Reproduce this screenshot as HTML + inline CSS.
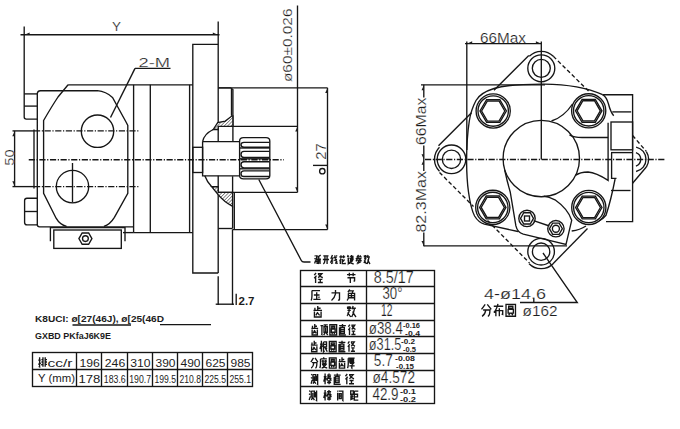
<!DOCTYPE html>
<html><head><meta charset="utf-8"><style>
html,body{margin:0;padding:0;background:#fff;}
svg{display:block;}
svg *{fill:none;stroke:#161616;stroke-width:1.35;}
svg text{fill:#1c1c1c;stroke:none;font-family:"Liberation Sans",sans-serif;}
svg text.nt{font-weight:normal;stroke:#fff;stroke-width:0.2;}
svg .f{fill:#1c1c1c;stroke:none;}
svg .h{fill:url(#hp);}
svg .dd{stroke-dasharray:6.2 1.6 1.2 1.6;}
svg .dash{stroke-dasharray:4 2.5;}
</style></head><body>
<svg width="680" height="429" viewBox="0 0 680 429">
<defs><pattern id="hp" width="2.4" height="2.4" patternUnits="userSpaceOnUse" patternTransform="rotate(45)"><rect x="0" y="0" width="2.4" height="2.4" style="fill:#fff;stroke:none"/><line x1="0" y1="0" x2="0" y2="2.4" style="stroke:#333;stroke-width:1.1"/></pattern></defs>
<line x1="20.5" y1="34.7" x2="219.5" y2="34.7" />
<line x1="24.2" y1="26.5" x2="24.2" y2="117" />
<path d="M24.2,117 Q24.2,119.1 26.3,119.1 L37.3,119.1" />
<line x1="218.2" y1="21.5" x2="218.2" y2="141.6" />
<line x1="218.2" y1="175.8" x2="218.2" y2="273" />
<text x="116.5" y="31.3" font-size="13.5" text-anchor="middle" class="nt">Y</text>
<path d="M218.2,44.4 L192.8,44.4 L192.8,273 L218.2,273" />
<line x1="24.2" y1="93.9" x2="37.3" y2="93.9" />
<line x1="24.2" y1="106.1" x2="37.3" y2="106.1" />
<path d="M37.3,225 L37.3,94 Q37.3,90.7 40.5,90.7 L97.5,90.7 Q106,91.5 112.5,97.5 L126.3,122.5 L127.8,125.5 L127.8,193.4 L114.4,217.3 Q110,224.5 103.9,226.3" />
<path d="M37.3,224.5 Q37.3,226.8 39.6,226.8 L133.6,226.8" />
<path d="M68.1,84.8 L58,97 Q52,106 43.6,120.5 L43.6,193.4 L56.1,218.2 Q60,225 66.6,226.3" />
<line x1="68.1" y1="84.8" x2="192.8" y2="84.8" />
<line x1="133.6" y1="84.8" x2="133.6" y2="232.6" />
<line x1="150.3" y1="84.8" x2="150.3" y2="232.6" />
<line x1="189.6" y1="84.8" x2="189.6" y2="232.6" />
<line x1="133.6" y1="232.6" x2="192.8" y2="232.6" />
<line x1="34" y1="129.5" x2="34" y2="188.6" />
<line x1="12.5" y1="130.9" x2="34" y2="130.9" />
<line x1="34" y1="130.9" x2="140" y2="130.9" class="dd" />
<line x1="12.5" y1="186.6" x2="34" y2="186.6" />
<line x1="34" y1="186.6" x2="140" y2="186.6" class="dd" />
<line x1="28.75" y1="159.7" x2="283.8" y2="159.7" class="dd" />
<circle cx="97.5" cy="131.2" r="16.2" stroke-width="1.9"/>
<circle cx="72.5" cy="186.6" r="16.2" stroke-width="1.9"/>
<line x1="72.5" y1="163" x2="72.5" y2="202.5" />
<line x1="14.6" y1="130.9" x2="14.6" y2="186.6" />
<text x="13.9" y="157.6" font-size="12.5" text-anchor="middle" class="nt" transform="rotate(-90 13.9 157.6)" textLength="16.3" lengthAdjust="spacingAndGlyphs">50</text>
<path d="M37,198.2 L27,198.2 Q24.6,198.2 24.6,200.6 L24.6,222.5 Q24.6,224.9 27,224.9 L37,224.9" />
<line x1="24.6" y1="211.5" x2="37" y2="211.5" />
<path d="M50.4,241.2 L50.4,227.6 L125,227.6 L125,241.2" />
<rect x="53.8" y="230" width="67.5" height="18.4" />
<line x1="123" y1="232.6" x2="133.6" y2="232.6" />
<polygon points="91.90,238.60 88.65,244.23 82.15,244.23 78.90,238.60 82.15,232.97 88.65,232.97" />
<circle cx="85.4" cy="238.6" r="2.9" />
<text x="138.5" y="67" font-size="12.5" text-anchor="start" class="nt" textLength="31.5" lengthAdjust="spacingAndGlyphs">2-M</text>
<line x1="135" y1="68.4" x2="170.5" y2="68.4" />
<line x1="135" y1="68.4" x2="110.5" y2="117.5" />
<line x1="218.2" y1="87.8" x2="327.5" y2="87.8" />
<path d="M218.2,87.8 L230.5,87.8 L232.9,89.5 L232.9,141.6" />
<line x1="231.5" y1="88.5" x2="231.5" y2="115.8" />
<line x1="218.2" y1="126.4" x2="297.5" y2="126.4" />
<line x1="218.2" y1="192.4" x2="297.5" y2="192.4" />
<line x1="232.6" y1="176.2" x2="232.6" y2="192.4" />
<line x1="232.6" y1="206.4" x2="232.6" y2="228.3" />
<line x1="218.2" y1="228.5" x2="232.6" y2="228.5" />
<line x1="234.3" y1="192.4" x2="234.3" y2="229.6" />
<line x1="232.5" y1="229.6" x2="327.5" y2="229.6" />
<line x1="297.5" y1="5.5" x2="297.5" y2="192.4" />
<line x1="327.5" y1="87.8" x2="327.5" y2="229.6" />
<path d="M213.2,129.5 L217.7,122.6 L225.3,121.1 L232.1,115.8 L232.9,115.8 L232.9,126.4 L218.2,126.4 L218.2,129.5 Z" class="h"/>
<path d="M211.7,186.7 L218.2,186.7 L218.2,192.4 L232.6,192.4 L232.6,206.4 Q224,202 217.7,194.2 Z" class="h"/>
<path d="M202.6,141.6 Q204,134 213.2,129.5" />
<path d="M204.8,175.8 Q207,182 211.7,186.7" />
<path d="M202.6,141.6 L239.6,141.6 M202.6,141.6 L202.6,175.8 L239.6,175.8" />
<rect x="192.8" y="147.3" width="9.8" height="25.2" />
<path d="M239.6,141 Q239.6,137.6 243.5,137.6 L266,137.6 Q269.8,137.6 269.8,141 L269.8,175.5 Q269.8,178.8 266,178.8 L243.5,178.8 Q239.6,178.8 239.6,175.5 Z" stroke-width="1.5"/>
<path d="M244,142.3 L269.5,142.3 M244,147.2 L269.5,147.2 M244,142.3 Q241,142.3 241,144.75 Q241,147.2 244,147.2" stroke-width="1.3"/>
<path d="M244,151.4 L269.5,151.4 M244,157.5 L269.5,157.5 M244,151.4 Q241,151.4 241,154.45 Q241,157.5 244,157.5" stroke-width="1.3"/>
<path d="M244,161.7 L269.5,161.7 M244,167.8 L269.5,167.8 M244,161.7 Q241,161.7 241,164.75 Q241,167.8 244,167.8" stroke-width="1.3"/>
<path d="M244,170.8 L269.5,170.8 M244,176.5 L269.5,176.5 M244,170.8 Q241,170.8 241,173.65 Q241,176.5 244,176.5" stroke-width="1.3"/>
<line x1="240" y1="148" x2="269.8" y2="148" stroke-width="1.5"/>
<line x1="240" y1="158.8" x2="269.8" y2="158.8" stroke-width="1.8"/>
<line x1="240" y1="168.8" x2="269.8" y2="168.8" stroke-width="1.5"/>
<path d="M258.8,179.5 L301.3,260.5 Q302,262 304,262 L310.5,262" />
<text x="291" y="44.5" font-size="12" text-anchor="middle" class="nt" transform="rotate(-90 292 44.3)" textLength="73.5" lengthAdjust="spacingAndGlyphs">ø60±0.026</text>
<text x="326.5" y="151.6" font-size="13.8" text-anchor="middle" class="nt" transform="rotate(-90 326.5 151.6)" textLength="16.3" lengthAdjust="spacingAndGlyphs">27</text>
<line x1="313" y1="165.4" x2="327.5" y2="165.4" />
<circle cx="322.3" cy="171.2" r="2.7" stroke-width="1.5"/>
<line x1="218.2" y1="276.2" x2="218.2" y2="305" />
<line x1="232.5" y1="229.5" x2="232.5" y2="305" />
<line x1="236.2" y1="293.8" x2="236.2" y2="305" />
<path d="M215.7,304.2 L234,304.2" />
<text x="238.5" y="304.6" font-size="10.5" text-anchor="start" font-weight="bold" textLength="16" lengthAdjust="spacingAndGlyphs">2.7</text>
<text x="480" y="43" font-size="14.5" text-anchor="start" class="nt" textLength="46" lengthAdjust="spacingAndGlyphs">66Max</text>
<line x1="465" y1="43.6" x2="541.3" y2="43.6" />
<line x1="466.8" y1="41.5" x2="466.8" y2="150" />
<line x1="541.3" y1="41.5" x2="541.3" y2="159.5" />
<line x1="421" y1="84.8" x2="545" y2="84.8" />
<line x1="423.8" y1="84.8" x2="423.8" y2="97.5" />
<line x1="423.8" y1="145.5" x2="423.8" y2="171" />
<line x1="423.8" y1="232.5" x2="423.8" y2="246.3" />
<text x="426" y="121.3" font-size="14.5" text-anchor="middle" class="nt" transform="rotate(-90 426 121.3)" textLength="47.5" lengthAdjust="spacingAndGlyphs">66Max</text>
<text x="426" y="201.8" font-size="14.5" text-anchor="middle" class="nt" transform="rotate(-90 426 201.8)" textLength="61.5" lengthAdjust="spacingAndGlyphs">82.3Max</text>
<line x1="423.8" y1="245.8" x2="567" y2="245.8" />
<line x1="425" y1="159.5" x2="664.5" y2="159.5" class="dd" />
<line x1="528.8" y1="55.5" x2="494" y2="90.3" />
<line x1="471.5" y1="112.8" x2="438.5" y2="145.8" />
<line x1="553.3" y1="56.3" x2="589.5" y2="92" class="dash"/>
<line x1="632.6" y1="135.5" x2="646.3" y2="151.4" class="dash"/>
<line x1="439.5" y1="172.5" x2="473.5" y2="206.5" class="dash"/>
<line x1="487.5" y1="220.5" x2="529.5" y2="263" class="dash"/>
<line x1="553" y1="263.7" x2="587.5" y2="228.5" />
<line x1="632.6" y1="183.3" x2="646.3" y2="167" />
<path d="M529.28,56.28 A17,17 0 0 1 553.32,56.28" />
<path d="M439.48,171.32 A17,17 0 0 1 439.48,147.28" />
<path d="M553.12,263.72 A17,17 0 0 1 529.08,263.72" />
<circle cx="541.3" cy="68.3" r="13.5" />
<circle cx="541.3" cy="68.3" r="9" />
<circle cx="451.5" cy="159.3" r="14.3" />
<circle cx="451.5" cy="159.3" r="9.2" />
<circle cx="541.1" cy="251.7" r="13.3" />
<circle cx="541.1" cy="251.7" r="8.7" />
<path d="M636.10,147.07 A12.5,12.5 0 0 1 636.10,171.53" stroke-width="1.4"/>
<path d="M635.96,152.53 A7.2,7.2 0 0 1 635.96,166.07" stroke-width="1.3"/>
<path d="M646.36,151.57 A15,15 0 0 1 646.36,167.03" />
<path d="M602.6,94.7 C590,89 570,84.3 544,84.1 C525,84 506,85 494,88.5 C486,91 479,95 476,100.5 C472.5,107 470.5,113 469.3,121 C467.3,134 466.6,148 466.6,162 C466.7,175 467.5,185 468.5,192 C470,203 472,211 474.6,216 C477,220 480,222.8 484.4,224.2 L518,231.5" />
<path d="M602.6,94.7 Q606.5,97 608.5,104 Q610.5,112 613.7,115.7" />
<path d="M615.1,179 Q611,200 606,215.3 Q603,219 599,221" />
<path d="M571.7,231 Q580,230 586,226" />
<circle cx="493.2" cy="111" r="17.1" stroke-width="1.4"/>
<circle cx="493.2" cy="111" r="15.2" stroke-width="1.2"/>
<polygon points="506.40,111.00 499.80,122.43 486.60,122.43 480.00,111.00 486.60,99.57 499.80,99.57" stroke-width="1.6"/>
<polygon points="504.80,111.00 499.00,121.05 487.40,121.05 481.60,111.00 487.40,100.95 499.00,100.95" stroke-width="1.4"/>
<circle cx="588.7" cy="110.8" r="17.1" stroke-width="1.4"/>
<circle cx="588.7" cy="110.8" r="15.2" stroke-width="1.2"/>
<polygon points="601.90,110.80 595.30,122.23 582.10,122.23 575.50,110.80 582.10,99.37 595.30,99.37" stroke-width="1.6"/>
<polygon points="600.30,110.80 594.50,120.85 582.90,120.85 577.10,110.80 582.90,100.75 594.50,100.75" stroke-width="1.4"/>
<circle cx="492.8" cy="207.4" r="17.1" stroke-width="1.4"/>
<circle cx="492.8" cy="207.4" r="15.2" stroke-width="1.2"/>
<polygon points="506.00,207.40 499.40,218.83 486.20,218.83 479.60,207.40 486.20,195.97 499.40,195.97" stroke-width="1.6"/>
<polygon points="504.40,207.40 498.60,217.45 487.00,217.45 481.20,207.40 487.00,197.35 498.60,197.35" stroke-width="1.4"/>
<circle cx="588.8" cy="207.5" r="17.1" stroke-width="1.4"/>
<circle cx="588.8" cy="207.5" r="15.2" stroke-width="1.2"/>
<polygon points="602.00,207.50 595.40,218.93 582.20,218.93 575.60,207.50 582.20,196.07 595.40,196.07" stroke-width="1.6"/>
<polygon points="600.40,207.50 594.60,217.55 583.00,217.55 577.20,207.50 583.00,197.45 594.60,197.45" stroke-width="1.4"/>
<circle cx="541.3" cy="158.5" r="38.2" />
<path d="M551.5,121 Q564,117 572.5,104" />
<path d="M569.5,134.8 Q574,137.5 582,137.5 L608.1,137.5" />
<path d="M575.3,175.5 Q580,172 588,172 Q596,172.5 608.1,180.4 L608.1,122.7" />
<path d="M611.6,165 L611.6,178.3 L616.5,178.3" />
<path d="M602.6,94.7 L632.6,94.7 L632.6,221.6 L606,221.6" />
<line x1="612.3" y1="111.9" x2="631.2" y2="111.9" />
<rect x="611" y="122" width="21.6" height="27.8" />
<line x1="611" y1="152.6" x2="632.6" y2="152.6" />
<line x1="611.6" y1="152.6" x2="611.6" y2="165" />
<line x1="611" y1="190.5" x2="630.5" y2="190.5" />
<path d="M504.7,170 Q507,181 510.3,192.3 L515.9,225.9 Q517.5,232.5 523.3,234.2 L566,244.5 L571.7,220.3 Q568,209 555,199.8 Q549,197 543.8,196.2" />
<circle cx="527" cy="218.4" r="8.2" />
<polygon points="533.50,218.40 530.25,224.03 523.75,224.03 520.50,218.40 523.75,212.77 530.25,212.77" />
<rect x="524.5" y="216" width="5.0" height="5" />
<circle cx="555.9" cy="228.7" r="8.2" />
<polygon points="562.40,228.70 559.15,234.33 552.65,234.33 549.40,228.70 552.65,223.07 559.15,223.07" />
<circle cx="555.9" cy="228.7" r="3.5" />
<line x1="533.6" y1="220.6" x2="549.4" y2="226" />
<path d="M543,253 L577.3,302.5 L520,302.5" />
<text x="484" y="298.8" font-size="15" text-anchor="start" class="nt" textLength="62" lengthAdjust="spacingAndGlyphs">4-ø14.6</text>
<line x1="533.8" y1="298.5" x2="533.8" y2="302.5" />
<text x="522.5" y="316.3" font-size="15.5" text-anchor="start" class="nt" textLength="35" lengthAdjust="spacingAndGlyphs">ø162</text>
<rect x="300.5" y="270.5" width="134.0" height="133.0" stroke-width="1.5"/>
<line x1="300.5" y1="286.5" x2="434.5" y2="286.5" stroke-width="1.5"/>
<line x1="300.5" y1="303.5" x2="434.5" y2="303.5" stroke-width="1.5"/>
<line x1="300.5" y1="320.5" x2="434.5" y2="320.5" stroke-width="1.5"/>
<line x1="300.5" y1="336.5" x2="434.5" y2="336.5" stroke-width="1.5"/>
<line x1="300.5" y1="353.5" x2="434.5" y2="353.5" stroke-width="1.5"/>
<line x1="300.5" y1="370.5" x2="434.5" y2="370.5" stroke-width="1.5"/>
<line x1="300.5" y1="386.5" x2="434.5" y2="386.5" stroke-width="1.5"/>
<line x1="366.5" y1="270.5" x2="366.5" y2="403.5" stroke-width="1.5"/>
<path d="M0.5,0.5 L1.5,1.5 M0.2,3.5 L1.2,4.5 M0.2,9.5 L1.7,6 M2.3,2 L5.5,2 M3.8,0 Q3.2,4 2.5,5 L5.5,5 M2.3,7 L5.8,7 M4,3.5 L4,10 M9.5,0.2 L6.5,1.5 L6.5,5 Q6.5,8.5 5.8,10 M6.5,4.5 L10,4.5 M8.5,4.5 L8.5,10" transform="translate(314.5,255) scale(0.650,0.900)" vector-effect="non-scaling-stroke" stroke-width="1.5"/>
<path d="M1,1 L9,1 M0.3,5 L9.7,5 M3.5,1 L3.5,6 Q3.2,9 1,10 M6.8,1 L6.8,10" transform="translate(322.67,255) scale(0.650,0.900)" vector-effect="non-scaling-stroke" stroke-width="1.5"/>
<path d="M2.5,0 L0.5,3.5 L3,3.5 L0.3,7.5 L3.5,6.5 M0.3,9.5 L3.5,8.5 M4.5,3 L9,2.5 M4.3,6 L9.5,5 M6,0.5 Q7,6 10,10 M9.5,6.5 L7,9.5 M8.5,0.5 L9.5,1.5" transform="translate(330.83,255) scale(0.650,0.900)" vector-effect="non-scaling-stroke" stroke-width="1.5"/>
<path d="M0.5,2 L9.5,2 M3,0.3 L3,3.5 M7,0.3 L7,3.5 M3,4 L1,7 M2,6 L2,10 M5,4.5 L5,9.5 L9.5,9.5 L9.5,8.5 M8.5,5 L5,8" transform="translate(339.0,255) scale(0.650,0.900)" vector-effect="non-scaling-stroke" stroke-width="1.5"/>
<path d="M1.5,0 L0.5,2.5 M1,2 L3.2,2 M0.5,4 L3,4 M0.5,6 L3,6 M1.8,4 L1.8,9.5 L3.5,8 M4.5,1.5 L8.8,1.5 L8.8,3.5 L4.5,3.5 M4.3,5 L10,5 M4.5,6.5 L9,6.5 M6.8,0 L6.8,8 M4.2,3 L5.5,5 Q4.8,8 3.5,9.5 M4.5,8.5 Q7,9.5 10,10" transform="translate(347.17,255) scale(0.650,0.900)" vector-effect="non-scaling-stroke" stroke-width="1.5"/>
<path d="M5,0 L3,2 L8.5,2 L7,0.5 M0.5,4 L9.5,4 M4.5,2.5 L1,7 M5.5,4 L9.5,7 M5.5,5.5 L3.5,7 M7,6 L3,9 M8.5,7.5 L2,10" transform="translate(355.33,255) scale(0.650,0.900)" vector-effect="non-scaling-stroke" stroke-width="1.5"/>
<path d="M0.5,2 L5,2 M2.7,0 L2.7,4 M0.8,0.5 L1.5,1.5 M4.5,0.5 L3.8,1.5 M1,4 L4.5,4 M3,4 Q2,8 0.5,9 M1,6 Q3,8 4.5,10 M7,0 L5.8,3 M6,2 L9.8,2 M8.5,2 Q7.5,7 5.5,10 M6.5,5 Q8,8 10,10" transform="translate(363.5,255) scale(0.650,0.900)" vector-effect="non-scaling-stroke" stroke-width="1.5"/>
<path d="M2.5,0.5 L0.5,2.5 M3,3 L0.5,5.5 M2,4.5 L2,10 M4.5,1 L9,1 L5,5 M5,1.5 Q7,4 10,5 M5,6.5 L9.5,6.5 M7.2,6.5 L7.2,9.5 M4.5,9.5 L10,9.5" transform="translate(313.8,272.5) scale(0.900,1.050)" vector-effect="non-scaling-stroke" stroke-width="1.95"/>
<path d="M0.5,2 L9.5,2 M3,0.3 L3,3.5 M7,0.3 L7,3.5 M1,5 L8.5,5 L8.5,8 L7.5,8.5 M4,5 L4,10" transform="translate(346.5,272.5) scale(0.950,1.050)" vector-effect="non-scaling-stroke" stroke-width="1.95"/>
<path d="M1,1 L9.5,1 M1,1 L1,6 Q1,9 0,10 M3,5 L9,5 M6,2.5 L6,9 M2.5,9 L10,9 M8,6.5 L8.8,7.5" transform="translate(311,289.5) scale(0.950,1.100)" vector-effect="non-scaling-stroke" stroke-width="1.95"/>
<path d="M1,3 L9,3 L9,9 Q9,10 7.5,9.5 M5,0.5 L5,4 Q4,8 1,10" transform="translate(330.5,289.5) scale(1.000,1.100)" vector-effect="non-scaling-stroke" stroke-width="1.95"/>
<path d="M3.5,0 L1.5,2.5 M3,1.2 L7,1.2 L6,3 M2,3.5 L2,7 Q2,9 0.5,10 M2,3.5 L8.5,3.5 L8.5,10 M2,5.5 L8.5,5.5 M2,7.5 L8.5,7.5 M5.2,3.5 L5.2,7.5" transform="translate(346.5,289.5) scale(0.950,1.100)" vector-effect="non-scaling-stroke" stroke-width="1.95"/>
<path d="M5,0 L5,4 M5,2 L8,2 M2,1.5 L2,4 M0.5,4 L9.5,4 M1.5,5 L1.5,10 L8.5,10 L8.5,5 M5,5.5 L3,8.5 M5,6.5 L7,8.5" transform="translate(313,306) scale(0.950,1.100)" vector-effect="non-scaling-stroke" stroke-width="1.95"/>
<path d="M0.5,2 L5,2 M2.7,0 L2.7,4 M0.8,0.5 L1.5,1.5 M4.5,0.5 L3.8,1.5 M1,4 L4.5,4 M3,4 Q2,8 0.5,9 M1,6 Q3,8 4.5,10 M7,0 L5.8,3 M6,2 L9.8,2 M8.5,2 Q7.5,7 5.5,10 M6.5,5 Q8,8 10,10" transform="translate(346.5,306) scale(0.950,1.100)" vector-effect="non-scaling-stroke" stroke-width="1.95"/>
<path d="M5,0 L5,4 M5,2 L8,2 M2,1.5 L2,4 M0.5,4 L9.5,4 M1.5,5 L1.5,10 L8.5,10 L8.5,5 M5,5.5 L3,8.5 M5,6.5 L7,8.5" transform="translate(311.0,324) scale(0.750,1.100)" vector-effect="non-scaling-stroke" stroke-width="1.9"/>
<path d="M0.3,1.5 L4,1.5 M2.2,1.5 L2.2,9.5 L1.3,9 M4.5,0.8 L10,0.8 M7,0.8 L6.5,2.3 M5,2.5 L9.5,2.5 L9.5,7.5 L5,7.5 Z M7.2,3.5 L7.2,7 M6.5,8 L4.5,10 M8,8 L10,10" transform="translate(320.25,324) scale(0.750,1.100)" vector-effect="non-scaling-stroke" stroke-width="1.9"/>
<path d="M0.5,0.5 L9.5,0.5 L9.5,10 L0.5,10 Z M3,2 L7,2 L7,3.5 L3,3.5 Z M2.5,4.5 L7.5,4.5 L7.5,7.5 L2.5,7.5 Z M4.5,7.5 L3,9 M5.5,7.5 L7,9" transform="translate(329.5,324) scale(0.750,1.100)" vector-effect="non-scaling-stroke" stroke-width="1.9"/>
<path d="M0.5,1.5 L9.5,1.5 M5,0 L5,3 M2.5,3 L7.5,3 L7.5,8.5 L2.5,8.5 Z M2.5,5 L7.5,5 M2.5,6.8 L7.5,6.8 M1,3 L1,10 L9.5,10" transform="translate(338.75,324) scale(0.750,1.100)" vector-effect="non-scaling-stroke" stroke-width="1.9"/>
<path d="M2.5,0.5 L0.5,2.5 M3,3 L0.5,5.5 M2,4.5 L2,10 M4.5,1 L9,1 L5,5 M5,1.5 Q7,4 10,5 M5,6.5 L9.5,6.5 M7.2,6.5 L7.2,9.5 M4.5,9.5 L10,9.5" transform="translate(348.0,324) scale(0.750,1.100)" vector-effect="non-scaling-stroke" stroke-width="1.9"/>
<path d="M5,0 L5,4 M5,2 L8,2 M2,1.5 L2,4 M0.5,4 L9.5,4 M1.5,5 L1.5,10 L8.5,10 L8.5,5 M5,5.5 L3,8.5 M5,6.5 L7,8.5" transform="translate(310.5,340.8) scale(0.750,1.100)" vector-effect="non-scaling-stroke" stroke-width="1.9"/>
<path d="M0.3,3 L4,3 M2.2,0 L2.2,10 M2,3.5 L0.3,7.5 M2.5,4 L3.8,5.5 M5,1 L9,1 L9,5.5 L5,5.5 M5,3.2 L9,3.2 M5,1 L5,10 L6.5,9 M6.5,5.5 L10,10 M9.5,6.5 L8.5,7.5" transform="translate(319.75,340.8) scale(0.750,1.100)" vector-effect="non-scaling-stroke" stroke-width="1.9"/>
<path d="M0.5,0.5 L9.5,0.5 L9.5,10 L0.5,10 Z M3,2 L7,2 L7,3.5 L3,3.5 Z M2.5,4.5 L7.5,4.5 L7.5,7.5 L2.5,7.5 Z M4.5,7.5 L3,9 M5.5,7.5 L7,9" transform="translate(329.0,340.8) scale(0.750,1.100)" vector-effect="non-scaling-stroke" stroke-width="1.9"/>
<path d="M0.5,1.5 L9.5,1.5 M5,0 L5,3 M2.5,3 L7.5,3 L7.5,8.5 L2.5,8.5 Z M2.5,5 L7.5,5 M2.5,6.8 L7.5,6.8 M1,3 L1,10 L9.5,10" transform="translate(338.25,340.8) scale(0.750,1.100)" vector-effect="non-scaling-stroke" stroke-width="1.9"/>
<path d="M2.5,0.5 L0.5,2.5 M3,3 L0.5,5.5 M2,4.5 L2,10 M4.5,1 L9,1 L5,5 M5,1.5 Q7,4 10,5 M5,6.5 L9.5,6.5 M7.2,6.5 L7.2,9.5 M4.5,9.5 L10,9.5" transform="translate(347.5,340.8) scale(0.750,1.100)" vector-effect="non-scaling-stroke" stroke-width="1.9"/>
<path d="M4,0.5 L0.5,4.5 M6,0.5 L9.8,4.5 M2,5 L8.5,5 Q8.5,9.5 6.5,10 M4.5,5 Q4,8.5 1,10" transform="translate(310.5,357.3) scale(0.750,1.080)" vector-effect="non-scaling-stroke" stroke-width="1.9"/>
<path d="M5,0 L5.5,1 M1,1.5 L9.5,1.5 M1,1.5 L1,6 Q1,9 0,10 M2.5,3.5 L9.5,3.5 M4.2,2.5 L4.2,5.5 L8,5.5 L8,2.5 M3,6.5 L8.5,6.5 Q6,9.5 2.5,10 M4,7 Q6.5,9.5 10,10" transform="translate(319.75,357.3) scale(0.750,1.080)" vector-effect="non-scaling-stroke" stroke-width="1.9"/>
<path d="M0.5,0.5 L9.5,0.5 L9.5,10 L0.5,10 Z M3,2 L7,2 L7,3.5 L3,3.5 Z M2.5,4.5 L7.5,4.5 L7.5,7.5 L2.5,7.5 Z M4.5,7.5 L3,9 M5.5,7.5 L7,9" transform="translate(329.0,357.3) scale(0.750,1.080)" vector-effect="non-scaling-stroke" stroke-width="1.9"/>
<path d="M5,0 L5,4 M5,2 L8,2 M2,1.5 L2,4 M0.5,4 L9.5,4 M1.5,5 L1.5,10 L8.5,10 L8.5,5 M5,5.5 L3,8.5 M5,6.5 L7,8.5" transform="translate(338.25,357.3) scale(0.750,1.080)" vector-effect="non-scaling-stroke" stroke-width="1.9"/>
<path d="M1,0.8 L9.5,0.8 M1,0.8 L1,6 Q1,9 0,10 M3,2 L8,2 L8,4.5 L3,4.5 Z M3,3.2 L8,3.2 M3,5.5 L8,5.5 L6,7 M5.8,6.8 L5.8,10 L4.8,9.5 M2.5,8 L9.5,8" transform="translate(347.5,357.3) scale(0.750,1.080)" vector-effect="non-scaling-stroke" stroke-width="1.9"/>
<path d="M0.5,0.5 L1.5,1.5 M0.2,3.5 L1.2,4.5 M0.2,9.5 L1.7,6 M2.8,1 L6.8,1 L6.8,7 M2.8,1 L2.8,7 M4.8,2.5 L4.8,6.5 L3,9.5 M5,7.5 L6.8,9.5 M8,2 L8,7 M9.5,0.5 L9.5,10 L8.5,9.5" transform="translate(311,373.5) scale(0.700,1.080)" vector-effect="non-scaling-stroke" stroke-width="1.9"/>
<path d="M0.3,3 L3.8,3 M2,0 L2,10 M1.8,3.5 L0.3,7.5 M2.3,4 L3.5,5.5 M4.5,1.5 L9.5,1.5 M4.8,3 L9.2,3 M4,4.5 L10,4.5 M7,0 Q6.5,4 4,6.5 M7.3,4 Q8,5.5 10,6.5 M5,7 L9,7 M4.5,8.5 L9.5,8.5 M7,6 L7,10" transform="translate(323.5,373.5) scale(0.800,1.080)" vector-effect="non-scaling-stroke" stroke-width="1.9"/>
<path d="M0.5,1.5 L9.5,1.5 M5,0 L5,3 M2.5,3 L7.5,3 L7.5,8.5 L2.5,8.5 Z M2.5,5 L7.5,5 M2.5,6.8 L7.5,6.8 M1,3 L1,10 L9.5,10" transform="translate(333.5,373.5) scale(0.750,1.080)" vector-effect="non-scaling-stroke" stroke-width="1.9"/>
<path d="M2.5,0.5 L0.5,2.5 M3,3 L0.5,5.5 M2,4.5 L2,10 M4.5,1 L9,1 L5,5 M5,1.5 Q7,4 10,5 M5,6.5 L9.5,6.5 M7.2,6.5 L7.2,9.5 M4.5,9.5 L10,9.5" transform="translate(345,373.5) scale(0.900,1.080)" vector-effect="non-scaling-stroke" stroke-width="1.9"/>
<path d="M0.5,0.5 L1.5,1.5 M0.2,3.5 L1.2,4.5 M0.2,9.5 L1.7,6 M2.8,1 L6.8,1 L6.8,7 M2.8,1 L2.8,7 M4.8,2.5 L4.8,6.5 L3,9.5 M5,7.5 L6.8,9.5 M8,2 L8,7 M9.5,0.5 L9.5,10 L8.5,9.5" transform="translate(309,390) scale(0.800,1.060)" vector-effect="non-scaling-stroke" stroke-width="1.9"/>
<path d="M0.3,3 L3.8,3 M2,0 L2,10 M1.8,3.5 L0.3,7.5 M2.3,4 L3.5,5.5 M4.5,1.5 L9.5,1.5 M4.8,3 L9.2,3 M4,4.5 L10,4.5 M7,0 Q6.5,4 4,6.5 M7.3,4 Q8,5.5 10,6.5 M5,7 L9,7 M4.5,8.5 L9.5,8.5 M7,6 L7,10" transform="translate(323.5,390) scale(0.800,1.060)" vector-effect="non-scaling-stroke" stroke-width="1.9"/>
<path d="M0.8,0.5 L1.8,1.5 M1,2.5 L1,10 M3,1 L9,1 L9,10 L8,9.5 M3.5,3.5 L6.5,3.5 L6.5,8 L3.5,8 Z M3.5,5.7 L6.5,5.7" transform="translate(337,390) scale(0.650,1.060)" vector-effect="non-scaling-stroke" stroke-width="1.9"/>
<path d="M0.5,0.8 L3.8,0.8 L3.8,4 L0.5,4 Z M2.2,4 L2.2,8.5 M2.2,6 L3.8,6 M0.8,5 L0.8,9 L4,8 M5,1 L10,1 M5,1 L5,9.5 L10,9.5 M5,4 L9,4 L9,6.5 L5,6.5" transform="translate(350.3,390) scale(0.800,1.060)" vector-effect="non-scaling-stroke" stroke-width="1.9"/>
<text x="373.8" y="282.5" font-size="16.5" text-anchor="start" class="nt" textLength="40" lengthAdjust="spacingAndGlyphs">8.5/17</text>
<text x="382.5" y="299" font-size="16.5" text-anchor="start" class="nt" textLength="20" lengthAdjust="spacingAndGlyphs">30°</text>
<text x="381" y="316" font-size="16.5" text-anchor="start" class="nt" textLength="11.5" lengthAdjust="spacingAndGlyphs">12</text>
<text x="368.8" y="333.5" font-size="16.5" text-anchor="start" class="nt" textLength="34" lengthAdjust="spacingAndGlyphs">ø38.4</text>
<text x="403" y="328" font-size="6.5" text-anchor="start" font-weight="bold" textLength="17" lengthAdjust="spacingAndGlyphs">-0.16</text>
<text x="405" y="336" font-size="6.5" text-anchor="start" font-weight="bold" textLength="15" lengthAdjust="spacingAndGlyphs">-0.4</text>
<text x="368.8" y="350" font-size="16.5" text-anchor="start" class="nt" textLength="32.5" lengthAdjust="spacingAndGlyphs">ø31.5</text>
<text x="401" y="344" font-size="6.5" text-anchor="start" font-weight="bold" textLength="14" lengthAdjust="spacingAndGlyphs">-0.2</text>
<text x="403" y="352" font-size="6.5" text-anchor="start" font-weight="bold" textLength="13" lengthAdjust="spacingAndGlyphs">-0.5</text>
<text x="373.8" y="366" font-size="16.5" text-anchor="start" class="nt" textLength="19" lengthAdjust="spacingAndGlyphs">5.7</text>
<text x="395" y="361" font-size="6.5" text-anchor="start" font-weight="bold" textLength="20" lengthAdjust="spacingAndGlyphs">-0.08</text>
<text x="396" y="368.5" font-size="6.5" text-anchor="start" font-weight="bold" textLength="18" lengthAdjust="spacingAndGlyphs">-0.15</text>
<text x="372.5" y="383.3" font-size="16.5" text-anchor="start" class="nt" textLength="42.5" lengthAdjust="spacingAndGlyphs">ø4.572</text>
<text x="372.5" y="399.5" font-size="16.5" text-anchor="start" class="nt" textLength="26" lengthAdjust="spacingAndGlyphs">42.9</text>
<text x="400" y="394" font-size="6.5" text-anchor="start" font-weight="bold" textLength="16" lengthAdjust="spacingAndGlyphs">-0.1</text>
<text x="400" y="402" font-size="6.5" text-anchor="start" font-weight="bold" textLength="16" lengthAdjust="spacingAndGlyphs">-0.2</text>
<text x="35" y="321.8" font-size="9.5" text-anchor="start" font-weight="bold" textLength="129" lengthAdjust="spacingAndGlyphs">K8UCI: ø[27(46J), ø[25(46D</text>
<line x1="72.5" y1="325" x2="131" y2="325" />
<line x1="160" y1="324.6" x2="211" y2="324.6" />
<text x="35" y="338.8" font-size="9" text-anchor="start" font-weight="bold" textLength="76" lengthAdjust="spacingAndGlyphs">GXBD  PKfaJ6K9E</text>
<rect x="32.5" y="352.5" width="220.0" height="34.0" stroke-width="1.5"/>
<line x1="32.5" y1="369.5" x2="252.5" y2="369.5" stroke-width="1.5"/>
<line x1="76.5" y1="352.5" x2="76.5" y2="386.5" stroke-width="1.5"/>
<line x1="101.5" y1="352.5" x2="101.5" y2="386.5" stroke-width="1.5"/>
<line x1="127.5" y1="352.5" x2="127.5" y2="386.5" stroke-width="1.5"/>
<line x1="152.5" y1="352.5" x2="152.5" y2="386.5" stroke-width="1.5"/>
<line x1="177.5" y1="352.5" x2="177.5" y2="386.5" stroke-width="1.5"/>
<line x1="202.5" y1="352.5" x2="202.5" y2="386.5" stroke-width="1.5"/>
<line x1="227.5" y1="352.5" x2="227.5" y2="386.5" stroke-width="1.5"/>
<path d="M0.3,3 L3,3 M1.8,0 L1.8,10 L0.8,9.5 M0.3,7.5 L3.3,6 M5.5,0 L5.5,10 M8,0 L8,10 M3.8,2.5 L5.5,2.5 M3.8,5 L5.5,5 M3.5,8 L5.5,7.5 M8,2.5 L10,2.5 M8,5 L10,5 M8,7.5 L10,7.5" transform="translate(38,357.3) scale(0.900,0.950)" vector-effect="non-scaling-stroke" stroke-width="1.4"/>
<text x="47.5" y="366.6" font-size="11" text-anchor="start" font-weight="normal" textLength="25" lengthAdjust="spacingAndGlyphs">cc/r</text>
<text x="38" y="382.4" font-size="11" text-anchor="start" font-weight="normal" textLength="37" lengthAdjust="spacingAndGlyphs">Y (mm)</text>
<text x="79.4" y="366.6" font-size="11.5" text-anchor="start" font-weight="normal" textLength="20.4" lengthAdjust="spacingAndGlyphs">196</text>
<text x="78.4" y="382.6" font-size="11.5" text-anchor="start" font-weight="normal" textLength="21.9" lengthAdjust="spacingAndGlyphs">178</text>
<text x="104.8" y="366.6" font-size="11.5" text-anchor="start" font-weight="normal" textLength="20.4" lengthAdjust="spacingAndGlyphs">246</text>
<text x="103.8" y="382.6" font-size="11.5" text-anchor="start" font-weight="normal" textLength="21.9" lengthAdjust="spacingAndGlyphs">183.6</text>
<text x="130.2" y="366.6" font-size="11.5" text-anchor="start" font-weight="normal" textLength="20.3" lengthAdjust="spacingAndGlyphs">310</text>
<text x="129.2" y="382.6" font-size="11.5" text-anchor="start" font-weight="normal" textLength="21.8" lengthAdjust="spacingAndGlyphs">190.7</text>
<text x="155.5" y="366.6" font-size="11.5" text-anchor="start" font-weight="normal" textLength="20.0" lengthAdjust="spacingAndGlyphs">390</text>
<text x="154.5" y="382.6" font-size="11.5" text-anchor="start" font-weight="normal" textLength="21.5" lengthAdjust="spacingAndGlyphs">199.5</text>
<text x="180.5" y="366.6" font-size="11.5" text-anchor="start" font-weight="normal" textLength="20.0" lengthAdjust="spacingAndGlyphs">490</text>
<text x="179.5" y="382.6" font-size="11.5" text-anchor="start" font-weight="normal" textLength="21.5" lengthAdjust="spacingAndGlyphs">210.8</text>
<text x="205.5" y="366.6" font-size="11.5" text-anchor="start" font-weight="normal" textLength="20.0" lengthAdjust="spacingAndGlyphs">625</text>
<text x="204.5" y="382.6" font-size="11.5" text-anchor="start" font-weight="normal" textLength="21.5" lengthAdjust="spacingAndGlyphs">225.5</text>
<text x="230.5" y="366.6" font-size="11.5" text-anchor="start" font-weight="normal" textLength="20.0" lengthAdjust="spacingAndGlyphs">985</text>
<text x="229.5" y="382.6" font-size="11.5" text-anchor="start" font-weight="normal" textLength="21.5" lengthAdjust="spacingAndGlyphs">255.1</text>
<path d="M4,0.5 L0.5,4.5 M6,0.5 L9.8,4.5 M2,5 L8.5,5 Q8.5,9.5 6.5,10 M4.5,5 Q4,8.5 1,10" transform="translate(481.0,303.8) scale(1.050,1.250)" vector-effect="non-scaling-stroke" stroke-width="1.2"/>
<path d="M0.5,2 L9.5,2 M4.5,0 Q3,5 0.5,7 M2.5,5.5 L9,5.5 L9,8.5 L8,8 M2.5,5.5 L2.5,10 M5.8,3.5 L5.8,10" transform="translate(493.25,303.8) scale(1.050,1.250)" vector-effect="non-scaling-stroke" stroke-width="1.2"/>
<path d="M0.5,0.5 L9.5,0.5 L9.5,10 L0.5,10 Z M3,2 L7,2 L7,3.5 L3,3.5 Z M2.5,4.5 L7.5,4.5 L7.5,7.5 L2.5,7.5 Z M4.5,7.5 L3,9 M5.5,7.5 L7,9" transform="translate(505.5,303.8) scale(1.050,1.250)" vector-effect="non-scaling-stroke" stroke-width="1.2"/>
<path d="M24.6,34.7 L29.6,32.400000000000006 L29.6,34.7 Z" class="f"/>
<path d="M217.8,34.7 L212.8,32.400000000000006 L212.8,34.7 Z" class="f"/>
<path d="M297.5,126.6 L295.2,131.6 L297.5,131.6 Z" class="f"/>
<path d="M297.5,192.2 L295.2,187.2 L297.5,187.2 Z" class="f"/>
<path d="M327.5,88 L325.2,93 L327.5,93 Z" class="f"/>
<path d="M327.5,229.4 L325.2,224.4 L327.5,224.4 Z" class="f"/>
<path d="M14.6,131.2 L12.3,136.2 L14.6,136.2 Z" class="f"/>
<path d="M14.6,186.3 L12.3,181.3 L14.6,181.3 Z" class="f"/>
<path d="M467.2,43.6 L472.2,41.300000000000004 L472.2,43.6 Z" class="f"/>
<path d="M540.9,43.6 L535.9,41.300000000000004 L535.9,43.6 Z" class="f"/>
<path d="M423.8,85.2 L421.5,90.2 L423.8,90.2 Z" class="f"/>
<path d="M423.8,159.2 L421.5,154.2 L423.8,154.2 Z" class="f"/>
<path d="M423.8,159.8 L421.5,164.8 L423.8,164.8 Z" class="f"/>
<path d="M423.8,245.9 L421.5,240.9 L423.8,240.9 Z" class="f"/>
</svg>
</body></html>
